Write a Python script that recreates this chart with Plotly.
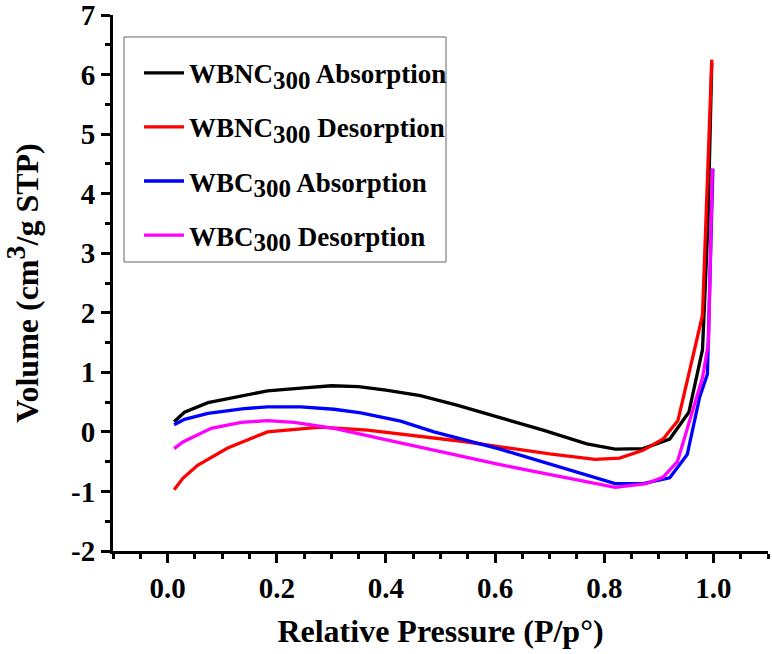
"""
    Nitrogen adsorption / desorption isotherms of WBNC300 and WBC300
"""

import plotly.graph_objects as go

# relative pressure (P/p°) and volume (cm3/g STP)
wbnc_abs_x = [0.012, 0.031, 0.074, 0.14, 0.183, 0.25, 0.30, 0.35, 0.40, 0.463,
              0.53, 0.609, 0.688, 0.768, 0.82, 0.871, 0.92, 0.955, 0.98, 0.99, 0.997]
wbnc_abs_y = [0.17, 0.33, 0.49, 0.61, 0.69, 0.74, 0.775, 0.76, 0.70, 0.61,
              0.45, 0.24, 0.03, -0.20, -0.29, -0.28, -0.12, 0.33, 1.38, 3.5, 6.2]

wbnc_des_x = [0.012, 0.028, 0.055, 0.11, 0.183, 0.28, 0.366, 0.463, 0.55, 0.609,
              0.70, 0.783, 0.828, 0.871, 0.908, 0.935, 0.98, 0.997]
wbnc_des_y = [-0.97, -0.78, -0.56, -0.27, 0.0, 0.08, 0.03, -0.07, -0.17, -0.25,
              -0.37, -0.46, -0.44, -0.31, -0.12, 0.19, 1.96, 6.25]

wbc_abs_x = [0.012, 0.031, 0.074, 0.14, 0.183, 0.244, 0.305, 0.354, 0.427, 0.488,
             0.609, 0.713, 0.82, 0.871, 0.92, 0.952, 0.975, 0.989, 0.999]
wbc_abs_y = [0.12, 0.21, 0.31, 0.39, 0.42, 0.42, 0.38, 0.32, 0.18, 0.0,
             -0.29, -0.58, -0.87, -0.87, -0.77, -0.38, 0.59, 0.97, 4.42]

wbc_des_x = [0.012, 0.028, 0.08, 0.135, 0.183, 0.232, 0.305, 0.366, 0.463, 0.609,
             0.713, 0.82, 0.877, 0.908, 0.934, 0.98, 0.991, 0.998]
wbc_des_y = [-0.28, -0.17, 0.06, 0.16, 0.19, 0.16, 0.06, -0.06, -0.25, -0.55,
             -0.74, -0.93, -0.87, -0.76, -0.50, 0.91, 1.5, 4.42]

y_ticks = [-2, -1, 0, 1, 2, 3, 4, 5, 6, 7]
y_ticktext = [str(v) for v in y_ticks]  # plain hyphen minus as in the original

FONT = "Liberation Serif, Times New Roman, serif"
SUB = '<sub><span style="font-size:25px">300</span></sub>'

series = [
    (wbnc_abs_x, wbnc_abs_y, "WBNC" + SUB + " Absorption", "black"),
    (wbnc_des_x, wbnc_des_y, "WBNC" + SUB + " Desorption", "red"),
    (wbc_abs_x, wbc_abs_y, "WBC" + SUB + " Absorption", "blue"),
    (wbc_des_x, wbc_des_y, "WBC" + SUB + " Desorption", "magenta"),
]

fig = go.Figure()
for i, (x, y, name, color) in enumerate(series):
    fig.add_trace(go.Scatter(x=x, y=y, mode="lines", name=name,
                             legendgroup=str(i),
                             line=dict(color=color, width=3.3)))

axis_common = dict(
    showline=True, linewidth=3, linecolor="black", automargin=False,
    ticks="outside", ticklen=9, tickwidth=2.5, tickcolor="black",
    showgrid=False, zeroline=False, ticklabeloverflow="allow",
    tickfont=dict(family=FONT, size=29, color="black", weight="bold"),
    minor=dict(ticks="outside", ticklen=5, tickwidth=2.5, tickcolor="black"),
)

fig.update_layout(
    width=772, height=654,
    margin=dict(l=113, r=4, t=15, b=103),
    plot_bgcolor="white", paper_bgcolor="white",
    font=dict(family=FONT, color="black"),
    xaxis=dict(range=[-0.1, 1.1], dtick=0.2, tickformat=".1f",
               title=dict(text="Relative Pressure (P/p°)", standoff=17,
                          font=dict(family=FONT, size=32, weight="bold")),
               **axis_common),
    yaxis=dict(range=[-2, 7], tickvals=y_ticks, ticktext=y_ticktext,
               title=dict(text='Volume (cm<sup><span style="font-size:28px">3</span></sup>/g STP)',
                          standoff=29,
                          font=dict(family=FONT, size=32, weight="bold")),
               **axis_common),
    legend=dict(x=0.0397, y=0.937, xanchor="left", yanchor="top",
                borderwidth=0, bgcolor="rgba(0,0,0,0)",
                font=dict(family=FONT, size=27, weight="bold"),
                tracegroupgap=16, itemwidth=40),
    shapes=[dict(type="rect", xref="paper", yref="paper",
                 x0=0.0168, x1=0.5084, y0=0.5392, y1=0.959,
                 line=dict(color="#666666", width=1))],
)
fig.update_yaxes(minor=dict(tickvals=[v + 0.5 for v in y_ticks[:-1]]))

# drop the default 8px body margin so the figure fills the window exactly
fig.write_html("out.html", config={"displayModeBar": False},
               post_script="document.body.style.margin = '0';")
